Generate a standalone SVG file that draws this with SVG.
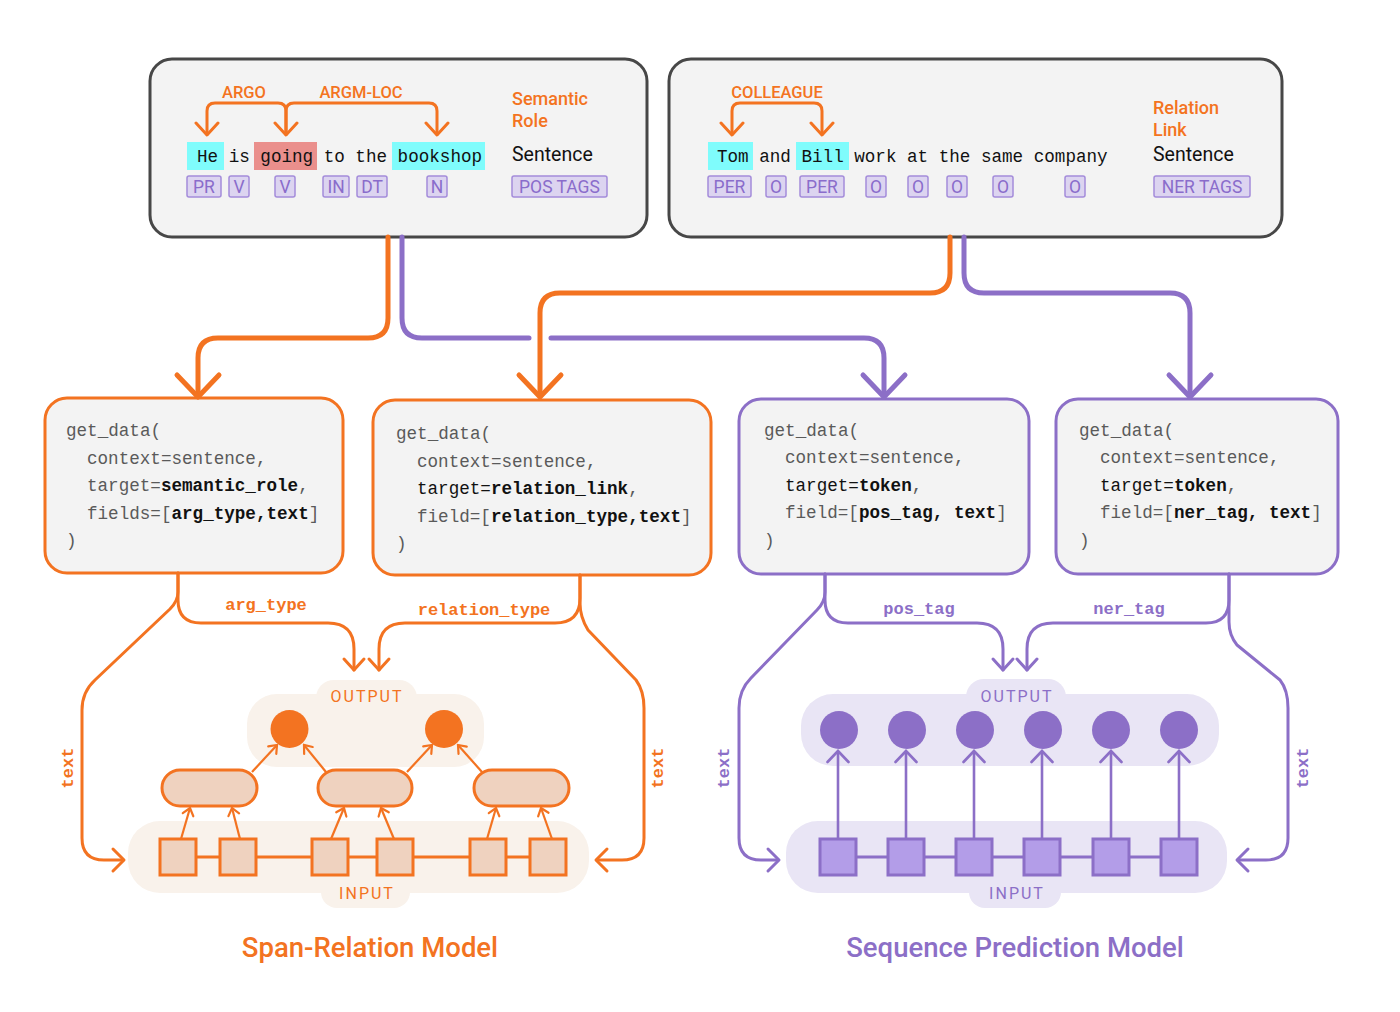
<svg xmlns="http://www.w3.org/2000/svg" width="1400" height="1012" viewBox="0 0 1400 1012">
<defs>
<style>
.topbox{fill:#f3f3f3;stroke:#474747;stroke-width:3}
.obox{fill:#f3f3f3;stroke:#f37321;stroke-width:3}
.pbox{fill:#f3f3f3;stroke:#8c6fc7;stroke-width:3}
.mono{font-family:"Liberation Mono","DejaVu Sans Mono",monospace;font-size:17.6px}
.sans{font-family:Roboto,"Liberation Sans",sans-serif}
.olabel{font-family:Roboto,"Liberation Sans",sans-serif;font-weight:500;fill:#f37321}
.code{font-family:"Liberation Mono","DejaVu Sans Mono",monospace;font-size:17.6px;fill:#5a5a5a}
.b{font-weight:bold;fill:#111}
.k{fill:#111}
.tag{fill:#dcd4f0;stroke:#a48cda;stroke-width:1.5}
.tagt{font-family:Roboto,"Liberation Sans",sans-serif;font-size:17.5px;fill:#8a6ccb;text-anchor:middle}
.ol{fill:none;stroke:#f37321;stroke-linecap:round;stroke-linejoin:round}
.pl{fill:none;stroke:#8c6fc7;stroke-linecap:round;stroke-linejoin:round}
.olab{font-family:"Liberation Mono","DejaVu Sans Mono",monospace;font-size:17px;font-weight:bold;fill:#f37321;text-anchor:middle}
.plab{font-family:"Liberation Mono","DejaVu Sans Mono",monospace;font-size:17px;font-weight:bold;fill:#8c6fc7;text-anchor:middle}
.bub{font-family:Roboto,"Liberation Sans",sans-serif;font-size:16px;letter-spacing:2px;text-anchor:middle}
</style>
<marker id="ao" viewBox="0 0 14 14" refX="12" refY="7" markerWidth="14" markerHeight="14" markerUnits="userSpaceOnUse" orient="auto">
<path d="M5,1.5 L12,7 L5,12.5" fill="none" stroke="#f37321" stroke-width="2.2" stroke-linecap="round"/>
</marker>
<marker id="ap" viewBox="0 0 24 24" refX="22" refY="12" markerWidth="24" markerHeight="24" markerUnits="userSpaceOnUse" orient="auto">
<path d="M11,1.5 L22,12 L11,22.5" fill="none" stroke="#8c6fc7" stroke-width="2.6" stroke-linecap="round"/>
</marker>
</defs>
<rect width="1400" height="1012" fill="#ffffff"/>

<!-- Top-left box -->
<g id="semantic-role-box">
<rect class="topbox" x="150" y="59" width="497" height="178" rx="22"/>
<rect x="187" y="142" width="37" height="28" fill="#7ffcfc"/>
<rect x="254" y="142" width="63" height="28" fill="#ea8f8c"/>
<rect x="392" y="142" width="93" height="28" fill="#7ffcfc"/>
<text class="mono" x="197" y="162" fill="#111" xml:space="preserve">He is going to the bookshop</text>
<path class="ol" stroke-width="3" d="M286,134 V111 Q286,103 278,103 H215 Q207,103 207,111 V134"/>
<path class="ol" stroke-width="3" d="M286,134 V111 Q286,103 294,103 H429 Q437,103 437,111 V134"/>
<path class="ol" stroke-width="3" d="M196,123 L207,135 L218,123 M275,123 L286,135 L297,123 M426,123 L437,135 L448,123"/>
<text class="olabel" x="244" y="98" font-size="16.5" text-anchor="middle">ARGO</text>
<text class="olabel" x="361" y="98" font-size="16.5" text-anchor="middle">ARGM-LOC</text>
<text class="olabel" x="512" y="105" font-size="18">Semantic</text>
<text class="olabel" x="512" y="127" font-size="18">Role</text>
<text class="sans" x="512" y="161" font-size="19.5" fill="#111">Sentence</text>
<rect class="tag" x="187" y="176" width="34" height="21" rx="2"/><text class="tagt" x="204" y="193">PR</text>
<rect class="tag" x="229" y="176" width="20" height="21" rx="2"/><text class="tagt" x="239" y="193">V</text>
<rect class="tag" x="275" y="176" width="20" height="21" rx="2"/><text class="tagt" x="285" y="193">V</text>
<rect class="tag" x="323" y="176" width="26" height="21" rx="2"/><text class="tagt" x="336" y="193">IN</text>
<rect class="tag" x="357" y="176" width="30" height="21" rx="2"/><text class="tagt" x="372" y="193">DT</text>
<rect class="tag" x="427" y="176" width="20" height="21" rx="2"/><text class="tagt" x="437" y="193">N</text>
<rect class="tag" x="512" y="176" width="95" height="21" rx="2"/><text class="tagt" x="559.5" y="193">POS TAGS</text>
</g>

<!-- Top-right box -->
<g id="relation-link-box">
<rect class="topbox" x="669" y="59" width="613" height="178" rx="22"/>
<rect x="708" y="142" width="45" height="28" fill="#7ffcfc"/>
<rect x="796" y="142" width="53" height="28" fill="#7ffcfc"/>
<text class="mono" x="717" y="162" fill="#111" xml:space="preserve">Tom and Bill work at the same company</text>
<path class="ol" stroke-width="3" d="M732,134 V111 Q732,103 740,103 H814 Q822,103 822,111 V134"/>
<path class="ol" stroke-width="3" d="M721,123 L732,135 L743,123 M811,123 L822,135 L833,123"/>
<text class="olabel" x="777" y="98" font-size="16.5" text-anchor="middle">COLLEAGUE</text>
<text class="olabel" x="1153" y="114" font-size="18">Relation</text>
<text class="olabel" x="1153" y="136" font-size="18">Link</text>
<text class="sans" x="1153" y="161" font-size="19.5" fill="#111">Sentence</text>
<rect class="tag" x="708" y="176" width="43" height="21" rx="2"/><text class="tagt" x="729.5" y="193">PER</text>
<rect class="tag" x="766" y="176" width="20" height="21" rx="2"/><text class="tagt" x="776" y="193">O</text>
<rect class="tag" x="800" y="176" width="44" height="21" rx="2"/><text class="tagt" x="822" y="193">PER</text>
<rect class="tag" x="866" y="176" width="20" height="21" rx="2"/><text class="tagt" x="876" y="193">O</text>
<rect class="tag" x="908" y="176" width="20" height="21" rx="2"/><text class="tagt" x="918" y="193">O</text>
<rect class="tag" x="947" y="176" width="20" height="21" rx="2"/><text class="tagt" x="957" y="193">O</text>
<rect class="tag" x="993" y="176" width="20" height="21" rx="2"/><text class="tagt" x="1003" y="193">O</text>
<rect class="tag" x="1065" y="176" width="20" height="21" rx="2"/><text class="tagt" x="1075" y="193">O</text>
<rect class="tag" x="1154" y="176" width="96" height="21" rx="2"/><text class="tagt" x="1202" y="193">NER TAGS</text>
</g>

<!-- Code boxes -->
<g id="get-data-semantic-role">
<rect class="obox" x="45" y="398" width="298" height="175" rx="22"/>
<text class="code" x="66" y="436">get_data(</text>
<text class="code" x="87" y="464">context=sentence,</text>
<text class="code" x="87" y="491">target=<tspan class="b">semantic_role</tspan>,</text>
<text class="code" x="87" y="519">fields=[<tspan class="b">arg_type,text</tspan>]</text>
<text class="code" x="66" y="546">)</text>
</g>
<g id="get-data-relation-link">
<rect class="obox" x="373" y="400" width="338" height="175" rx="22"/>
<text class="code" x="396" y="439">get_data(</text>
<text class="code" x="417" y="467">context=sentence,</text>
<text class="code" x="417" y="494"><tspan class="k">target=</tspan><tspan class="b">relation_link</tspan>,</text>
<text class="code" x="417" y="522">field=[<tspan class="b">relation_type,text</tspan>]</text>
<text class="code" x="396" y="549">)</text>
</g>
<g id="get-data-pos-tag">
<rect class="pbox" x="739" y="399" width="290" height="175" rx="22"/>
<text class="code" x="764" y="436">get_data(</text>
<text class="code" x="785" y="463">context=sentence,</text>
<text class="code" x="785" y="491"><tspan class="k">target=</tspan><tspan class="b">token</tspan>,</text>
<text class="code" x="785" y="518" xml:space="preserve">field=[<tspan class="b">pos_tag, text</tspan>]</text>
<text class="code" x="764" y="546">)</text>
</g>
<g id="get-data-ner-tag">
<rect class="pbox" x="1056" y="399" width="282" height="175" rx="22"/>
<text class="code" x="1079" y="436">get_data(</text>
<text class="code" x="1100" y="463">context=sentence,</text>
<text class="code" x="1100" y="491"><tspan class="k">target=</tspan><tspan class="b">token</tspan>,</text>
<text class="code" x="1100" y="518" xml:space="preserve">field=[<tspan class="b">ner_tag, text</tspan>]</text>
<text class="code" x="1079" y="546">)</text>
</g>

<!-- Span-Relation model -->
<g id="span-relation-model">
<rect x="247" y="694" width="237" height="73" rx="30" fill="#f9f2eb"/>
<rect x="316" y="680" width="101" height="40" rx="18" fill="#f9f2eb"/>
<rect x="128" y="821" width="461" height="72" rx="32" fill="#f9f2eb"/>
<rect x="321" y="872" width="89" height="36" rx="16" fill="#f9f2eb"/>
<text class="bub" x="367" y="702" fill="#f37321">OUTPUT</text>
<text class="bub" x="367" y="899" fill="#f37321">INPUT</text>
<circle cx="289.5" cy="729" r="19" fill="#f37321"/>
<circle cx="444" cy="729" r="19" fill="#f37321"/>
<line x1="178" y1="857" x2="548" y2="857" stroke="#f37321" stroke-width="3"/>
<g fill="#efd2bf" stroke="#f37321" stroke-width="3">
<rect x="162" y="770" width="95" height="36" rx="18"/>
<rect x="318" y="770" width="94" height="36" rx="18"/>
<rect x="474" y="770" width="95" height="36" rx="18"/>
<rect x="160" y="839" width="36" height="36"/>
<rect x="220" y="839" width="36" height="36"/>
<rect x="312" y="839" width="36" height="36"/>
<rect x="377" y="839" width="36" height="36"/>
<rect x="470" y="839" width="36" height="36"/>
<rect x="530" y="839" width="36" height="36"/>
</g>
<g stroke="#f37321" stroke-width="2.2" marker-end="url(#ao)">
<line x1="181" y1="839" x2="190" y2="808"/>
<line x1="240" y1="839" x2="232" y2="808"/>
<line x1="331" y1="839" x2="344" y2="808"/>
<line x1="394" y1="839" x2="381" y2="808"/>
<line x1="487" y1="839" x2="496" y2="808"/>
<line x1="552" y1="839" x2="541" y2="808"/>
<line x1="252" y1="772" x2="277" y2="745"/>
<line x1="326" y1="772" x2="304" y2="745"/>
<line x1="407" y1="772" x2="432" y2="745"/>
<line x1="482" y1="772" x2="458" y2="745"/>
</g>
<text class="sans" x="370" y="957" font-size="27.5" font-weight="500" fill="#f37321" text-anchor="middle">Span-Relation Model</text>
</g>

<!-- Sequence prediction model -->
<g id="sequence-prediction-model">
<rect x="801" y="694" width="418" height="72" rx="32" fill="#e9e5f5"/>
<rect x="966" y="679" width="100" height="40" rx="18" fill="#e9e5f5"/>
<rect x="786" y="821" width="441" height="72" rx="32" fill="#e9e5f5"/>
<rect x="969" y="872" width="92" height="36" rx="16" fill="#e9e5f5"/>
<text class="bub" x="1017" y="702" fill="#8c6fc7">OUTPUT</text>
<text class="bub" x="1017" y="899" fill="#8c6fc7">INPUT</text>
<g fill="#8c6fc7">
<circle cx="839" cy="730" r="19"/>
<circle cx="907" cy="730" r="19"/>
<circle cx="975" cy="730" r="19"/>
<circle cx="1043" cy="730" r="19"/>
<circle cx="1111" cy="730" r="19"/>
<circle cx="1179" cy="730" r="19"/>
</g>
<line x1="838" y1="857" x2="1179" y2="857" stroke="#8c6fc7" stroke-width="3"/>
<g fill="#b39de8" stroke="#8c6fc7" stroke-width="3">
<rect x="820" y="839" width="36" height="36"/>
<rect x="888" y="839" width="36" height="36"/>
<rect x="956" y="839" width="36" height="36"/>
<rect x="1024" y="839" width="36" height="36"/>
<rect x="1093" y="839" width="36" height="36"/>
<rect x="1161" y="839" width="36" height="36"/>
</g>
<g stroke="#8c6fc7" stroke-width="2.6" marker-end="url(#ap)">
<line x1="838" y1="839" x2="838" y2="751"/>
<line x1="906" y1="839" x2="906" y2="751"/>
<line x1="974" y1="839" x2="974" y2="751"/>
<line x1="1042" y1="839" x2="1042" y2="751"/>
<line x1="1111" y1="839" x2="1111" y2="751"/>
<line x1="1179" y1="839" x2="1179" y2="751"/>
</g>
<text class="sans" x="1015" y="957" font-size="27.5" font-weight="500" fill="#8c6fc7" text-anchor="middle">Sequence Prediction Model</text>
</g>

<!-- Connectors -->
<g id="connectors">
<path class="ol" stroke-width="5" d="M388,237 V318 Q388,338 368,338 H218 Q198,338 198,358 V396"/>
<path class="ol" stroke-width="5" d="M177,375 L198,397 L219,375"/>
<path class="pl" stroke-width="5" d="M402,237 V318 Q402,338 422,338 H529"/>
<path class="pl" stroke-width="5" d="M551,338 H864 Q884,338 884,358 V396"/>
<path class="pl" stroke-width="5" d="M863,375 L884,397 L905,375"/>
<path class="ol" stroke-width="5" d="M950,237 V273 Q950,293 930,293 H560 Q540,293 540,313 V396"/>
<path class="ol" stroke-width="5" d="M519,375 L540,397 L561,375"/>
<path class="pl" stroke-width="5" d="M964,237 V273 Q964,293 984,293 H1170 Q1190,293 1190,313 V396"/>
<path class="pl" stroke-width="5" d="M1169,375 L1190,397 L1211,375"/>

<path class="ol" stroke-width="3" d="M178,573 V600 Q178,623 201,623 H328 Q354,623 354,649 V670"/>
<path class="ol" stroke-width="3" d="M344,659 L354,670 L364,659"/>
<path class="ol" stroke-width="3" d="M580,575 V598 Q580,623 555,623 H405 Q379,623 379,649 V670"/>
<path class="ol" stroke-width="3" d="M369,659 L379,670 L389,659"/>
<path class="ol" stroke-width="3" d="M178,573 V592 Q178,601 170,609 L95,680 Q82,692 82,710 V838 Q82,860 104,860 H123"/>
<path class="ol" stroke-width="3" d="M113,849 L124,860 L113,871"/>
<path class="ol" stroke-width="3" d="M580,575 V603 Q580,617 588,630 L636,680 Q644,691 644,708 V838 Q644,860 622,860 H597"/>
<path class="ol" stroke-width="3" d="M607,849 L596,860 L607,871"/>
<text class="olab" x="266" y="610">arg_type</text>
<text class="olab" x="484" y="615">relation_type</text>
<text class="olab" transform="translate(73,768) rotate(-90)">text</text>
<text class="olab" transform="translate(663,768) rotate(-90)">text</text>

<path class="pl" stroke-width="3" d="M825,574 V600 Q825,623 848,623 H977 Q1003,623 1003,649 V670"/>
<path class="pl" stroke-width="3" d="M993,659 L1003,670 L1013,659"/>
<path class="pl" stroke-width="3" d="M1229,574 V600 Q1229,623 1206,623 H1053 Q1027,623 1027,649 V670"/>
<path class="pl" stroke-width="3" d="M1017,659 L1027,670 L1037,659"/>
<path class="pl" stroke-width="3" d="M825,574 V592 Q825,602 817,610 L751,678 Q739,690 739,708 V838 Q739,860 761,860 H778"/>
<path class="pl" stroke-width="3" d="M768,849 L779,860 L768,871"/>
<path class="pl" stroke-width="3" d="M1229,574 V622 Q1229,635 1237,645 L1280,680 Q1288,690 1288,708 V838 Q1288,860 1266,860 H1238"/>
<path class="pl" stroke-width="3" d="M1248,849 L1237,860 L1248,871"/>
<text class="plab" x="919" y="614">pos_tag</text>
<text class="plab" x="1129" y="614">ner_tag</text>
<text class="plab" transform="translate(729,768) rotate(-90)">text</text>
<text class="plab" transform="translate(1308,768) rotate(-90)">text</text>
</g>
</svg>
